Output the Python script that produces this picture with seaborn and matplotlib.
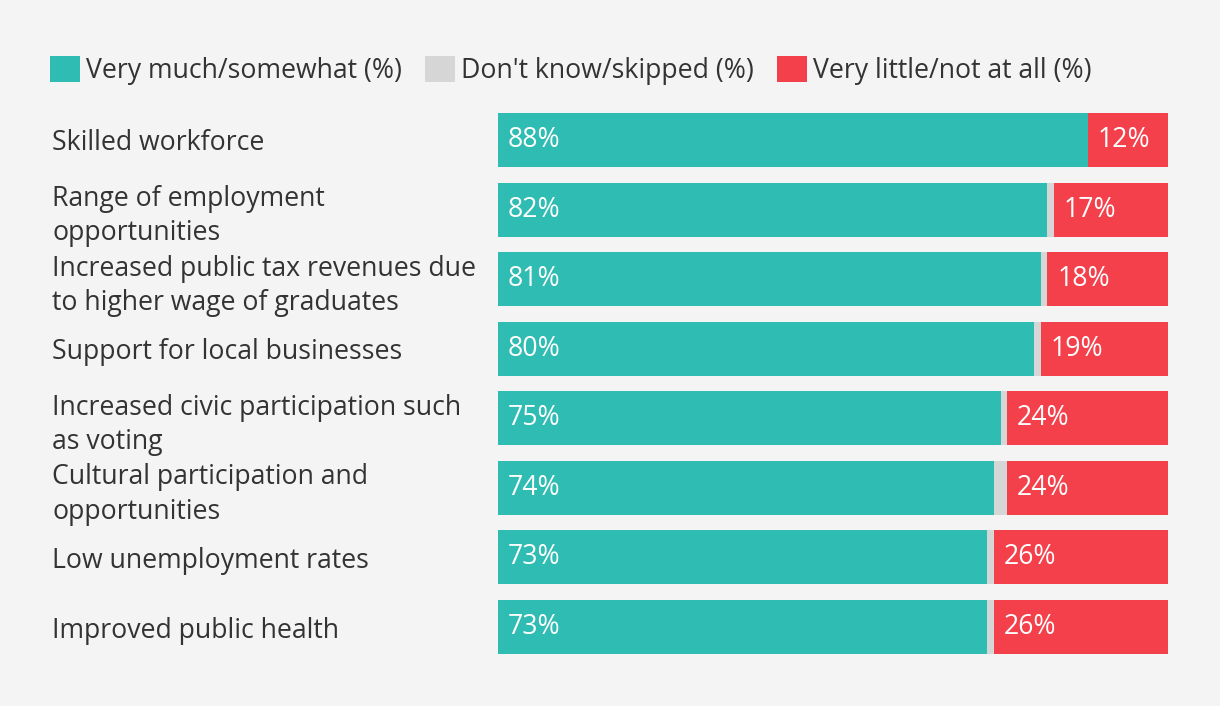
import matplotlib
matplotlib.use("Agg")
import matplotlib.pyplot as plt
import seaborn as sns
import pandas as pd
import numpy as np
from matplotlib.patches import Patch
from matplotlib.transforms import offset_copy

categories = [
    "Skilled workforce",
    "Range of employment\nopportunities",
    "Increased public tax revenues due\nto higher wage of graduates",
    "Support for local businesses",
    "Increased civic participation such\nas voting",
    "Cultural participation and\nopportunities",
    "Low unemployment rates",
    "Improved public health",
]
very_much = [88, 82, 81, 80, 75, 74, 73, 73]
dont_know = [0, 1, 1, 1, 1, 2, 1, 1]
very_little = [12, 17, 18, 19, 24, 24, 26, 26]
legend_labels = ["Very much/somewhat (%)", "Don't know/skipped (%)", "Very little/not at all (%)"]

TEAL = "#2fbcb2"
GRAY = "#d6d6d6"
RED = "#f4404b"
BG = "#f4f4f4"
TXT = "#333333"

sns.set_theme(style="white")
plt.rcParams["font.family"] = ["Open Sans", "DejaVu Sans"]

df = pd.DataFrame({
    "cat": categories,
    "green": very_much,
    "green_gray": np.array(very_much) + np.array(dont_know),
    "total": np.array(very_much) + np.array(dont_know) + np.array(very_little),
})

fig = plt.figure(figsize=(12.2, 7.06), dpi=100, facecolor=BG)
ax = fig.add_axes([498 / 1220, 1 - 654 / 706, 670 / 1220, (654 - 113) / 706])
ax.set_facecolor(BG)

w = 0.776
sns.barplot(data=df, x="total", y="cat", color=RED, width=w, ax=ax, orient="h", saturation=1, linewidth=0)
sns.barplot(data=df, x="green_gray", y="cat", color=GRAY, width=w, ax=ax, orient="h", saturation=1, linewidth=0)
sns.barplot(data=df, x="green", y="cat", color=TEAL, width=w, ax=ax, orient="h", saturation=1, linewidth=0)

ax.set_xlim(0, 100)
ax.set_ylim(len(categories) - 1 + w / 2, -w / 2)
ax.set_xlabel("")
ax.set_ylabel("")
ax.set_xticks([])
for s in ax.spines.values():
    s.set_visible(False)

fs = 19.2
ax.tick_params(axis="y", length=0, pad=321)
for lbl in ax.get_yticklabels():
    lbl.set_horizontalalignment("left")
    lbl.set_fontsize(fs)
    lbl.set_color(TXT)
    lbl.set_linespacing(1.3)

trans = offset_copy(ax.transData, fig=fig, x=10, y=0, units="dots")
for i in range(len(categories)):
    ax.text(0, i, f"{very_much[i]}%", transform=trans, ha="left", va="center",
            color="white", fontsize=fs)
    ax.text(very_much[i] + dont_know[i], i, f"{very_little[i]}%", transform=trans,
            ha="left", va="center", color="white", fontsize=fs)

handles = [Patch(facecolor=c, edgecolor="none") for c in (TEAL, GRAY, RED)]
fig.legend(handles, legend_labels, loc="upper left", bbox_to_anchor=(39 / 1220, 1 - 45 / 706),
           ncol=3, frameon=False, fontsize=fs, handlelength=1.12, handleheight=1.12,
           handletextpad=0.25, columnspacing=0.85, labelcolor=TXT, borderaxespad=0)

fig.savefig("out.png", dpi=100, facecolor=BG)
